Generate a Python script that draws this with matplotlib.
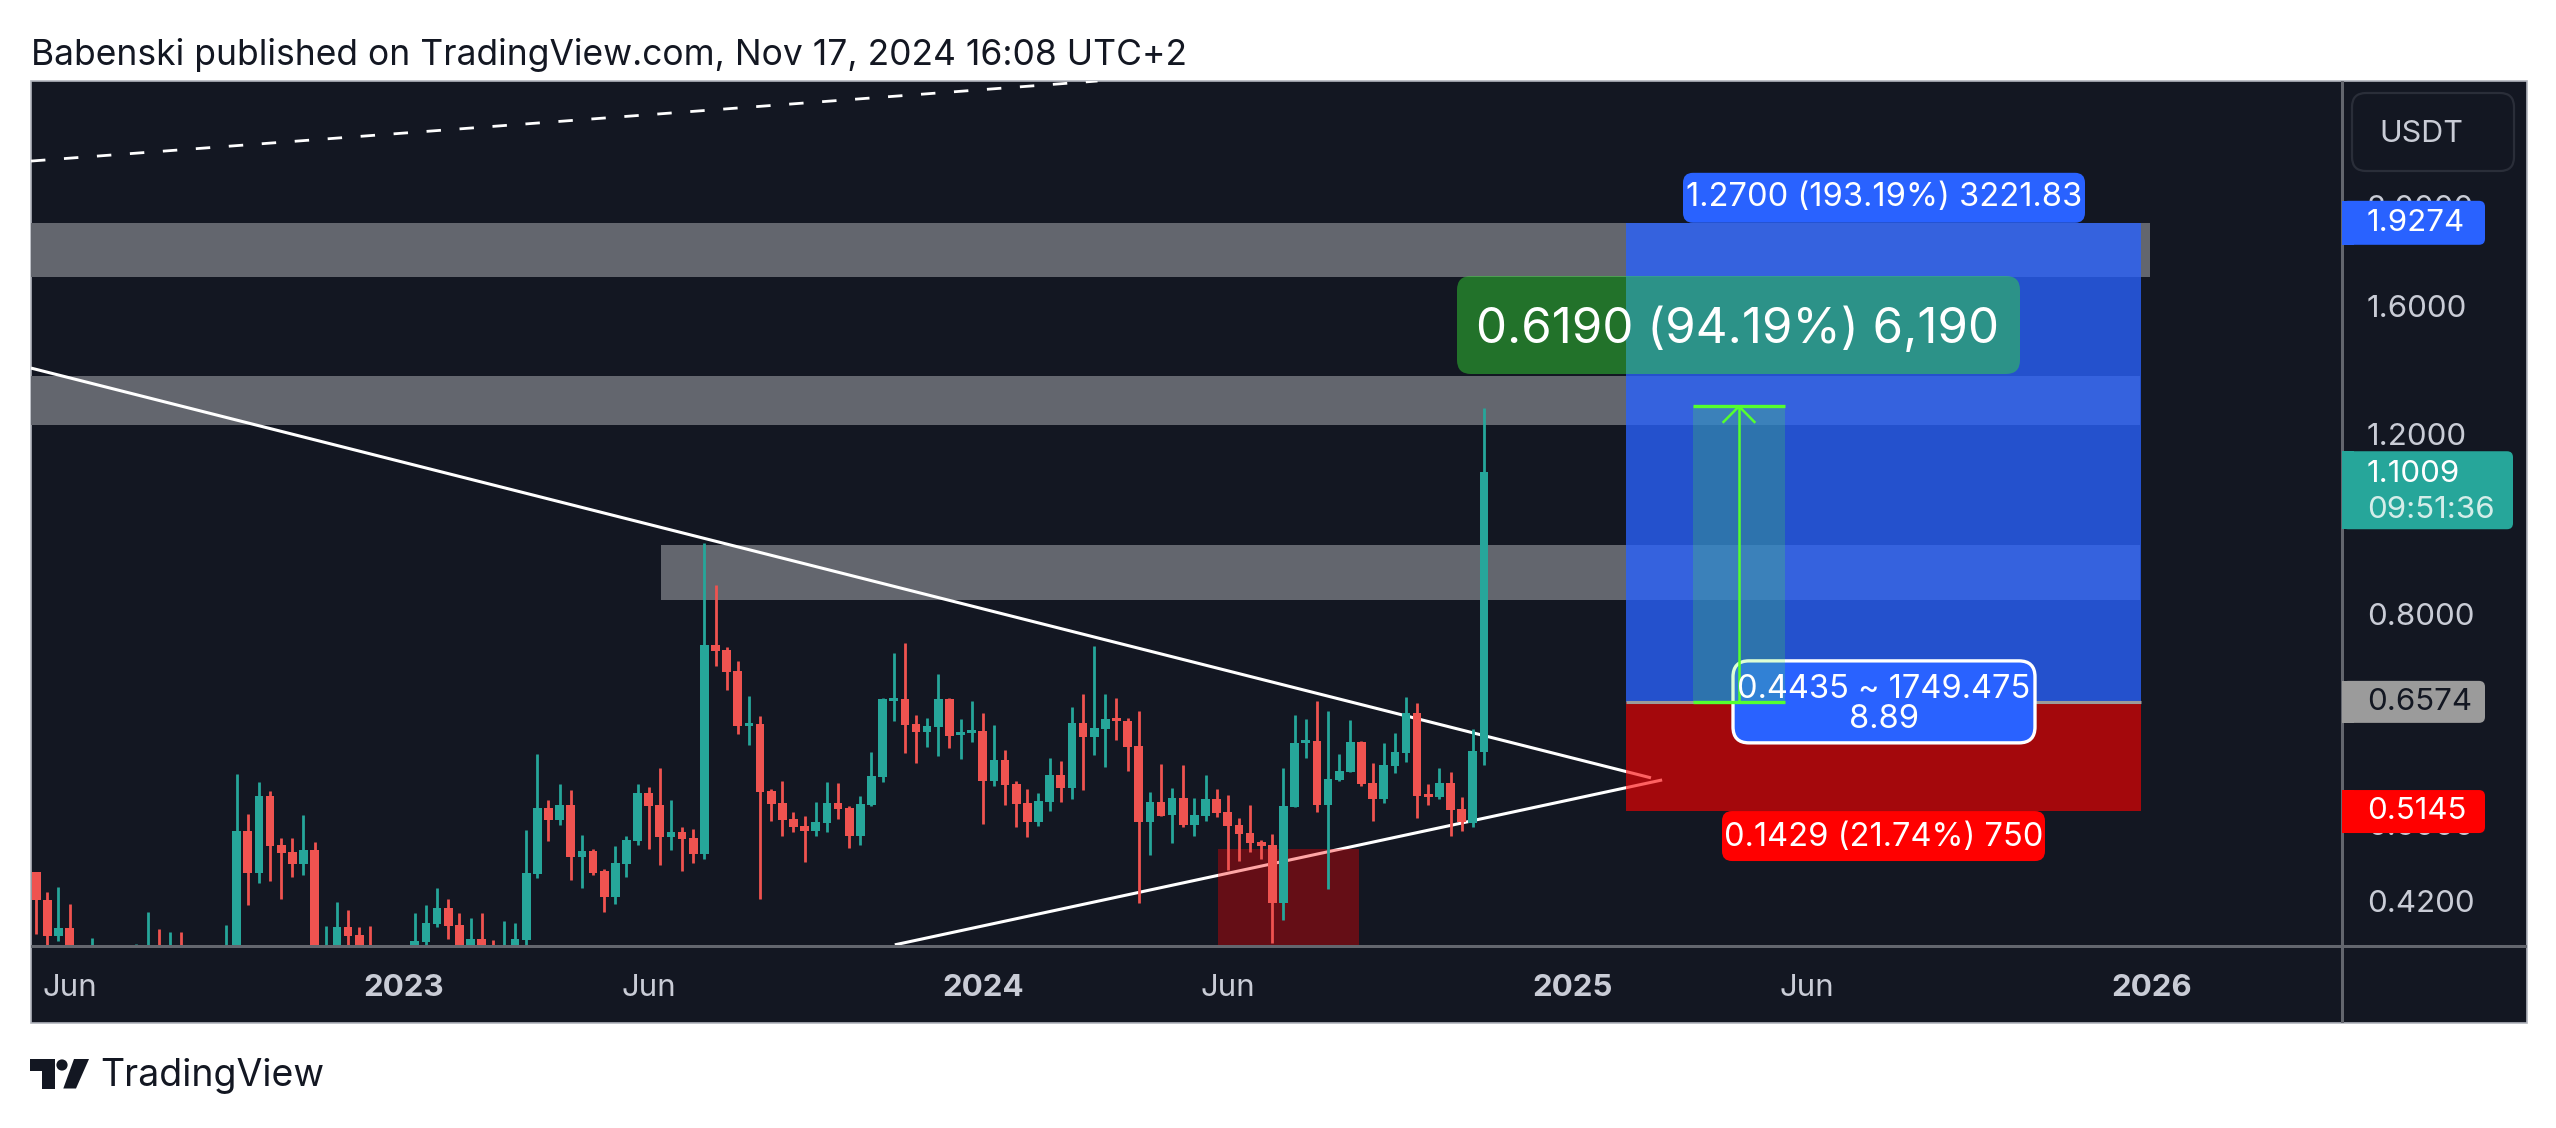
import matplotlib
matplotlib.use("Agg")
import matplotlib.pyplot as plt
from matplotlib.patches import Rectangle, FancyBboxPatch, Polygon, Circle
from matplotlib.ticker import NullLocator
from matplotlib.transforms import IdentityTransform

plt.rcParams["font.family"] = "Inter"

# weekly candles, first one is week 0 (mid May 2022). values under the axis are guesses
opens = [.4488,.4215,.3888,.3958,.345,.35,.36,.34,.35,.345,.37,.375,.36,.37,.35,.34,.35,.36,.375,.4921,
         .4478,.5323,.4769,.4694,.4569,.4715,.37,.375,.3967,.3897,.37,.36,.35,.345,.37,.3835,.3994,.4140,.3985,.37,
         .3862,.37,.36,.375,.3853,.4468,.5182,.5044,.5216,.4642,.4705,.4498,.4243,.4569,.4811,.5359,.5216,.4855,.4910,.4844,
         .4673,.7471,.7388,.7048,.6229,.6258,.5383,.5240,.5055,.4977,.4921,.5010,.5240,.5182,.4866,.5216,.5555,.6588,.6618,.6258,
         .6146,.6215,.6618,.6104,.6132,.6160,.5506,.5771,.5469,.5240,.5021,.5252,.5580,.5420,.6272,.6077,.6188,.6342,.6300,.5955,
         .5021,.5252,.5101,.5299,.4988,.5090,.5288,.5135,.4988,.4899,.4800,.4769,.4186,.5193,.5996,.6022,.5216,.5518,.5618,.6009,
         .5481,.5288,.5694,.5862,.6414,.5347,.5311,.5481,.5170,.5010,.5876]
highs = [.4488,.4291,.4340,.4177,.36,.3870,.375,.37,.37,.3818,.4102,.3949,.3923,.3923,.375,.37,.375,.3985,.5593,.5112,
         .5493,.5383,.4844,.4844,.5101,.4800,.3976,.4196,.4121,.3967,.3976,.375,.37,.375,.4093,.4168,.4330,.4224,.4093,.4048,
         .4093,.3853,.4021,.4003,.4932,.5849,.5276,.5469,.5395,.4877,.4726,.4518,.4758,.4866,.5469,.5432,.5668,.5276,.4965,.4943,
         .9393,.8548,.7437,.7208,.6663,.6371,.5407,.5506,.5135,.5090,.5252,.5493,.5481,.5205,.5323,.5876,.6633,.7338,.7505,.6385,
         .6342,.7000,.6633,.6328,.6588,.6414,.6243,.5902,.5506,.5407,.5359,.5797,.5758,.6500,.6693,.7454,.6693,.6633,.6342,.6443,
         .5371,.5719,.5420,.5707,.5299,.5580,.5407,.5335,.5067,.5216,.4822,.4888,.5668,.6385,.6328,.6588,.6443,.5849,.6314,.6022,
         .5732,.5996,.6132,.6648,.6559,.5469,.5668,.5618,.5311,.6188,1.2720]
lows = [.3905,.36,.3844,.35,.33,.34,.33,.32,.33,.33,.34,.35,.34,.34,.33,.32,.33,.34,.36,.4167,
        .4378,.4398,.4224,.4438,.4458,.36,.35,.36,.37,.36,.35,.34,.33,.335,.36,.37,.3967,.3862,.36,.36,
        .36,.35,.35,.36,.37,.4428,.4811,.4988,.4408,.4330,.4458,.4102,.4177,.4438,.4769,.4726,.4559,.4715,.4498,.4580,
        .4621,.7127,.6753,.6118,.5969,.4224,.5033,.4866,.4910,.4590,.4866,.4910,.5055,.4737,.4769,.5205,.5493,.6300,.5862,.5732,
        .5942,.5824,.5929,.5784,.6009,.4999,.5444,.5216,.4965,.4855,.4977,.5147,.5252,.5288,.5395,.5836,.5681,.6036,.5630,.4186,
        .4663,.5090,.4790,.4965,.4866,.5033,.5078,.4508,.4600,.4694,.4621,.3827,.4030,.5193,.5797,.5135,.4320,.5506,.5618,.5444,
        .5033,.5240,.5605,.5745,.5067,.5216,.5288,.4866,.4921,.4965,.5707]
closes = [.4215,.3888,.3958,.37,.35,.365,.34,.35,.345,.37,.375,.36,.37,.35,.34,.35,.36,.375,.4921,.4478,
          .5323,.4758,.4684,.4569,.4715,.37,.375,.3967,.3888,.37,.36,.35,.345,.37,.3844,.4003,.4140,.3976,.37,.3862,
          .37,.36,.375,.3862,.4478,.5182,.5044,.5216,.4642,.4705,.4478,.4243,.4580,.4822,.5359,.5205,.4855,.4910,.4833,.4673,
          .7471,.7372,.7032,.6229,.6272,.5371,.5228,.5044,.4965,.4921,.5021,.5240,.5170,.4866,.5228,.5567,.6618,.6633,.6243,.6146,
          .6229,.6618,.6091,.6146,.6174,.5506,.5771,.5456,.5228,.5021,.5264,.5580,.5420,.6272,.6077,.6202,.6328,.6300,.5942,.5021,
          .5252,.5086,.5299,.4988,.5101,.5288,.5124,.4977,.4888,.4790,.4758,.4186,.5205,.5996,.6036,.5216,.5530,.5630,.6009,.5469,
          .5288,.5707,.5876,.6414,.5323,.5311,.5481,.5158,.5021,.5889,1.1009]

# axis ticks
week_ticks = [3, 33, 55, 85, 107, 138, 159, 190]
week_labels = ["Jun", "2023", "Jun", "2024", "Jun", "2025", "Jun", "2026"]
price_ticks = [2.0, 1.6, 1.2, 0.8, 0.5, 0.42]
price_labels = ["2.0000", "1.6000", "1.2000", "0.8000", "0.5000", "0.4200"]

# drawings: (left week, right week, top price, bottom price)
zones = [(-1, 189.85, 1.9274, 1.7065),
         (-1, 188.9, 1.3664, 1.2241),
         (56.1, 188.9, 0.9351, 0.8265)]
demand_box = (106.1, 118.8, 0.4726, 0.30)
upper_trend_x, upper_trend_y = [-0.467, 145.0], [1.391, 0.5543]
lower_trend_x, lower_trend_y = [77.1, 146.0], [0.3810, 0.5517]
dashed_x, dashed_y = [-0.467, 95.3], [2.214, 2.65]

# long position tool
pos_left, pos_right = 142.8, 189.0
target, entry, stop, last_price = 1.9274, 0.6574, 0.5145, 1.1009
# measure tool
measure_left, measure_right, measure_top = 148.8, 157.0, 1.2764
arrow_wing_x, arrow_wing_price = 1.39, 1.2325

W, H = 2556, 1128
GREEN, RED = "#26a69a", "#ef5350"
BG, GRID = "#131722", "#63666e"
TICK = "#c9ccd6"
LIME = "#55ff2e"
BLUE = "#2962ff"
PX = IdentityTransform()

fig = plt.figure(figsize=(W / 100, H / 100), dpi=100, facecolor="white")
ax = fig.add_axes([31 / W, (H - 946) / H, 2310 / W, 865 / H], facecolor="none", zorder=0)
ax.set_yscale("log")
ax.set_xlim(-0.467, 206.96)
ax.set_ylim(0.38, 2.65)


def rrect(target_obj, x0, y0, x1, y1, color, r=8, **kw):
    # pixel box, y measured from the top of the image
    p = FancyBboxPatch((x0 + r, H - y1 + r), x1 - x0 - 2 * r, y1 - y0 - 2 * r,
                       boxstyle=f"round,pad={r},rounding_size={r}", transform=PX,
                       facecolor=color, linewidth=kw.pop("linewidth", 0), **kw)
    if target_obj is fig:
        fig.add_artist(p)
    else:
        ax.add_patch(p)
    return p


def scale_tag(y0, y1, x1, color):
    # tag on the price scale: square on the left, rounded on the right
    rrect(fig, 2342, y0, x1, y1, color, r=6, zorder=3)
    fig.add_artist(Rectangle((2342, H - y1), 12, y1 - y0, transform=PX, facecolor=color, lw=0, zorder=3))


def label(x, y, s, size=23.5, color="white", ha="center", **kw):
    return fig.text(x, H - y - 2, s, transform=PX, fontsize=size, color=color, ha=ha, va="center", **kw)


def price_y(p):
    return H - ax.transData.transform((0, p))[1]


# panel background and frame
fig.add_artist(Rectangle((31, H - 1023), 2496, 942, transform=PX, facecolor=BG,
                         edgecolor="#b2b5be", linewidth=1.2, zorder=-1))

# grey zones
for left, right, top, bottom in zones:
    ax.add_patch(Rectangle((left, bottom), right - left, top - bottom, color=GRID, lw=0, zorder=1))

# trend lines
ax.plot(upper_trend_x, upper_trend_y, color="white", lw=2.2, zorder=2, solid_capstyle="butt")
ax.plot(lower_trend_x, lower_trend_y, color="white", lw=2.2, zorder=2, solid_capstyle="butt")
ax.plot(dashed_x, dashed_y, color="white", lw=2.0, linestyle=(0, (5.2, 6.7)), zorder=2)

ax.add_patch(Rectangle((demand_box[0], demand_box[3]), demand_box[1] - demand_box[0],
                       demand_box[2] - demand_box[3], color="#ff0000", alpha=0.35, lw=0, zorder=3))

# candles
weeks = list(range(len(opens)))
colors = [GREEN if c >= o else RED for o, c in zip(opens, closes)]
ax.vlines(weeks, lows, highs, colors=colors, lw=2.0, zorder=4)
ax.bar(weeks, [abs(c - o) for o, c in zip(opens, closes)], bottom=[min(o, c) for o, c in zip(opens, closes)],
       width=0.78, color=colors, lw=0, zorder=4)

# long position
ax.add_patch(Rectangle((pos_left, entry), pos_right - pos_left, target - entry, color=BLUE, alpha=0.78, lw=0, zorder=5))
ax.add_patch(Rectangle((pos_left, stop), pos_right - pos_left, entry - stop, color="#ff0000", alpha=0.62, lw=0, zorder=5))
ax.plot([pos_left, pos_right], [entry, entry], color="#9b9b9b", lw=2.2, zorder=5.5, solid_capstyle="butt")

# position size label sits under the measure fill
rrect(ax, 1733, price_y(entry) - 41, 2035, price_y(entry) + 41, BLUE, r=16, edgecolor="white",
      linewidth=2.4, zorder=6)

ax.add_patch(Rectangle((measure_left, entry), measure_right - measure_left, measure_top - entry,
                       color=LIME, alpha=0.2, lw=0, zorder=7))
measure_mid = (measure_left + measure_right) / 2
ax.plot([measure_left, measure_right], [measure_top, measure_top], color=LIME, lw=2.4, zorder=8, solid_capstyle="butt")
ax.plot([measure_left, measure_right], [entry, entry], color=LIME, lw=2.4, zorder=8, solid_capstyle="butt")
ax.plot([measure_mid, measure_mid], [entry, measure_top], color=LIME, lw=1.8, zorder=8)
ax.plot([measure_mid - arrow_wing_x, measure_mid, measure_mid + arrow_wing_x],
        [arrow_wing_price, measure_top, arrow_wing_price], color=LIME, lw=1.8, zorder=8)

# axis ticks
ax.yaxis.tick_right()
ax.set_xticks(week_ticks, week_labels)
ax.set_yticks(price_ticks, price_labels)
ax.yaxis.set_minor_locator(NullLocator())
ax.tick_params(axis="x", length=0, pad=20, labelsize=22.5, labelcolor=TICK)
ax.tick_params(axis="y", length=0, pad=18.5, labelsize=22.5, labelcolor=TICK)
for t in ax.get_xticklabels():
    if t.get_text().isdigit():
        t.set_fontweight("bold")
for side in ax.spines.values():
    side.set_visible(False)

# frame lines inside the panel
fig.add_artist(Rectangle((31, H - 947.5), 2496, 3, transform=PX, facecolor=GRID, lw=0, zorder=0.5))
fig.add_artist(Rectangle((2340.5, H - 1023), 3, 942, transform=PX, facecolor=GRID, lw=0, zorder=0.5))

# labels on the position tool
top_y, stop_y, entry_y = price_y(target), price_y(stop), price_y(entry)
rrect(fig, 1683, top_y - 50, 2085, top_y, BLUE, r=10, zorder=3)
label(1884, top_y - 27, "1.2700 (193.19%) 3221.83", zorder=4)
rrect(fig, 1722, stop_y, 2045, stop_y + 50, "#ff0000", r=10, zorder=3)
label(1884, stop_y + 24, "0.1429 (21.74%) 750", zorder=4)
rrect(fig, 1457, 276, 2020, 374, "#36e334", r=14, alpha=0.45, zorder=3)
label(1738, 328, "0.6190 (94.19%) 6,190", size=35.5, zorder=4)
label(1884, entry_y - 14, "0.4435 ~ 1749.475", zorder=4)
label(1884, entry_y + 16, "8.89", zorder=4)

# labels on the price scale
scale_tag(top_y - 22, top_y + 22, 2485, BLUE)
label(2367, top_y - 2, "1.9274", size=22.5, ha="left", zorder=4)
last_y = price_y(last_price)
scale_tag(last_y - 21, last_y + 57, 2513, GREEN)
label(2367, last_y, "1.1009", size=22.5, ha="left", zorder=4)
label(2367, last_y + 36, "09:51:36", size=22.5, ha="left", color="#d4ede9", zorder=4)
scale_tag(entry_y - 21, entry_y + 21, 2485, "#9b9b9b")
label(2367, entry_y - 2, "0.6574", size=22.5, ha="left", color=BG, zorder=4)
scale_tag(stop_y - 21, stop_y + 22, 2485, "#ff0000")
label(2367, stop_y - 2, "0.5145", size=22.5, ha="left", zorder=4)

# currency button
rrect(fig, 2352, 93, 2514, 171, "none", r=14, edgecolor="#2a2e39", linewidth=1.6, zorder=3)
label(2421, 132, "USDT", size=22, color=TICK, zorder=4)

# header and footer
label(31, 53, "Babenski published on TradingView.com, Nov 17, 2024 16:08 UTC+2", size=25.5,
      color=BG, ha="left")
label(100, 1074, "TradingView", size=27, color=BG, ha="left")
fig.add_artist(Polygon([(30, H - 1059), (54.5, H - 1059), (54.5, H - 1088.5), (41.7, H - 1088.5),
                        (41.7, H - 1071), (30, H - 1071)], transform=PX, facecolor=BG, lw=0))
fig.add_artist(Circle((62, H - 1065), 5.6, transform=PX, facecolor=BG, lw=0))
fig.add_artist(Polygon([(74, H - 1059), (89, H - 1059), (76, H - 1088.5), (63.3, H - 1088.5)],
                       transform=PX, facecolor=BG, lw=0))

fig.savefig("out.png", dpi=100)
